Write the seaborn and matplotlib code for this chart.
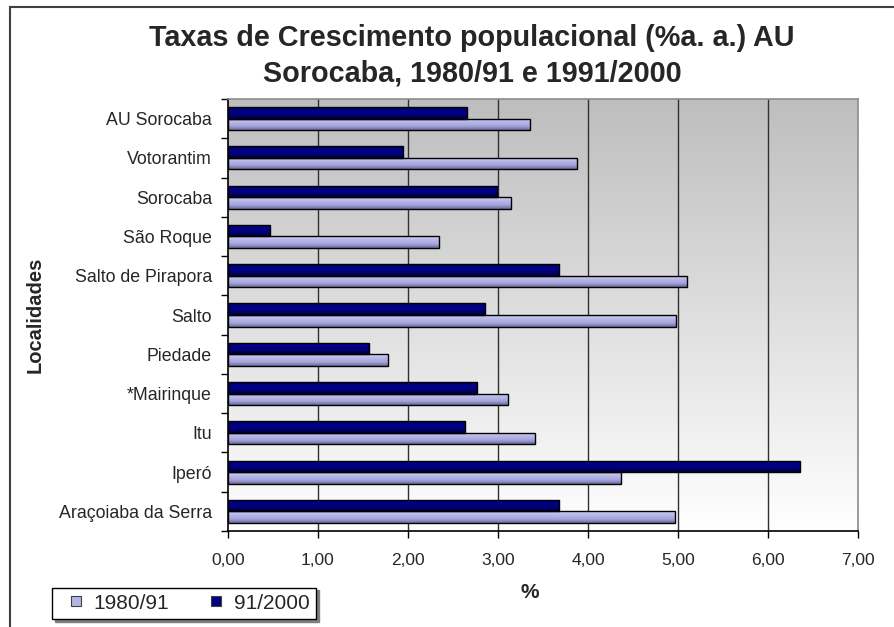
import numpy as np
import pandas as pd
import matplotlib
matplotlib.use("Agg")
import matplotlib.pyplot as plt
from matplotlib.patches import Rectangle
from matplotlib.lines import Line2D
from matplotlib.colors import LinearSegmentedColormap
import seaborn as sns

# Growth rates (% per year) by locality
localidades = ["AU Sorocaba", "Votorantim", "Sorocaba", "São Roque",
               "Salto de Pirapora", "Salto", "Piedade", "*Mairinque",
               "Itu", "Iperó", "Araçoiaba da Serra"]
taxa_1980_91 = [3.35, 3.88, 3.14, 2.34, 5.10, 4.98, 1.78, 3.11, 3.41, 4.37, 4.97]
taxa_91_2000 = [2.66, 1.94, 2.99, 0.47, 3.68, 2.86, 1.57, 2.77, 2.63, 6.35, 3.68]
periodos = ["1980/91", "91/2000"]
xticks = [0, 1, 2, 3, 4, 5, 6, 7]

df = pd.DataFrame({
    "Localidade": localidades * 2,
    "Periodo": [periodos[0]] * len(localidades) + [periodos[1]] * len(localidades),
    "Taxa": taxa_1980_91 + taxa_91_2000,
})

light = "#b4b4e6"
dark = "#000080"
palette = {periodos[0]: light, periodos[1]: dark}

sns.set_style("white")
plt.rcParams["font.family"] = ["Liberation Sans", "DejaVu Sans"]

fig = plt.figure(figsize=(8.94, 6.27), dpi=100)
ax = fig.add_axes([228 / 894, 1 - 531 / 627, 630 / 894, 432 / 627])

sns.barplot(data=df, y="Localidade", x="Taxa", hue="Periodo",
            hue_order=[periodos[1], periodos[0]], palette=palette,
            order=localidades, orient="h", width=0.59, legend=False,
            edgecolor="black", linewidth=1.0, saturation=1, ax=ax,
            errorbar=None)

ax.set_xlim(0, 7)
ax.set_ylim(len(localidades) - 0.5, -0.5)

# shaded fill inside each bar
cm_light = LinearSegmentedColormap.from_list(
    "l", ["#d0d0f4", "#b8b8ea", "#a4a4dc", "#6c6c98"])
cm_dark = LinearSegmentedColormap.from_list(
    "d", ["#00006a", "#000086", "#00007a", "#000030"])
grad = np.linspace(0, 1, 64).reshape(-1, 1)
for p in list(ax.patches):
    fc = p.get_facecolor()
    cmap = cm_dark if fc[2] < 0.6 else cm_light
    x0, y0 = p.get_x(), p.get_y()
    x1, y1 = x0 + p.get_width(), y0 + p.get_height()
    im = ax.imshow(grad, cmap=cmap, aspect="auto", origin="upper",
                   extent=(x0, x1, y1, y0), zorder=1.5, interpolation="bilinear")
    im.set_clip_path(p)
    p.set_facecolor("none")
    p.set_zorder(2)

# plot-area background: grey at the top fading to white at the bottom
bg = LinearSegmentedColormap.from_list("bg", ["#bebebe", "#ffffff"])
ax.imshow(np.linspace(0, 1, 256).reshape(-1, 1), cmap=bg, aspect="auto",
          extent=(0, 1, 0, 1), origin="upper", transform=ax.transAxes,
          zorder=0.1, interpolation="bilinear")
ax.set_xlim(0, 7)
ax.set_ylim(len(localidades) - 0.5, -0.5)

for v in xticks[1:-1]:
    ax.axvline(v, color="#303030", lw=1.0, zorder=0.5)

ax.set_xticks(xticks)
ax.set_xticklabels([f"{v:.2f}".replace(".", ",") for v in xticks], fontsize=12.5)
ax.tick_params(axis="x", direction="out", length=5, width=1, color="black",
               pad=11, bottom=True)
ax.set_yticks(range(len(localidades)))
ax.set_yticklabels(localidades, fontsize=12.8)
ax.set_yticks(np.arange(-0.5, len(localidades), 1.0), minor=True)
ax.tick_params(axis="y", which="major", length=0, pad=11.5)
ax.tick_params(axis="y", which="minor", direction="out", length=5, width=1,
               color="black", left=True)

for side in ["top", "right"]:
    ax.spines[side].set_color("#8c8c8c")
    ax.spines[side].set_linewidth(1.2)
for side in ["left", "bottom"]:
    ax.spines[side].set_color("black")
    ax.spines[side].set_linewidth(1.2)

ax.set_xlabel("")
ax.set_ylabel("")
fig.text(530 / 894, 1 - 592 / 627, "%", ha="center", va="center",
         fontsize=15, fontweight="bold")
fig.text(35 / 894, 1 - 315 / 627, "Localidades", ha="center", va="center",
         rotation=90, fontsize=14.5, fontweight="bold")

fig.text(472 / 894, 1 - 46 / 627,
         "Taxas de Crescimento populacional (%a. a.) AU",
         ha="center", va="baseline", fontsize=20.7, fontweight="bold")
fig.text(472 / 894, 1 - 81 / 627, "Sorocaba, 1980/91 e 1991/2000",
         ha="center", va="baseline", fontsize=20.7, fontweight="bold")

handles = [
    Line2D([], [], marker="s", linestyle="none", markersize=7.5,
           markerfacecolor=light, markeredgecolor="#404040", markeredgewidth=0.8),
    Line2D([], [], marker="s", linestyle="none", markersize=7.5,
           markerfacecolor=dark, markeredgecolor="#404040", markeredgewidth=0.8),
]
leg = fig.legend(handles, periodos, loc="lower left",
                 bbox_to_anchor=(52 / 894, 1 - 619 / 627), ncol=2,
                 fontsize=15, frameon=True, fancybox=False, borderaxespad=0,
                 handlelength=1.7, handletextpad=0.0, columnspacing=1.4,
                 borderpad=0.3, shadow={"color": "#808080", "alpha": 1.0})
leg.get_frame().set_edgecolor("black")
leg.get_frame().set_linewidth(1.0)

# outer chart border
fig.add_artist(Rectangle((10 / 894, -0.2), 1.2, 1.2 - 7 / 627,
                         transform=fig.transFigure, fill=False,
                         edgecolor="#404040", linewidth=1.5))

fig.savefig("out.png", dpi=100, facecolor="white")
